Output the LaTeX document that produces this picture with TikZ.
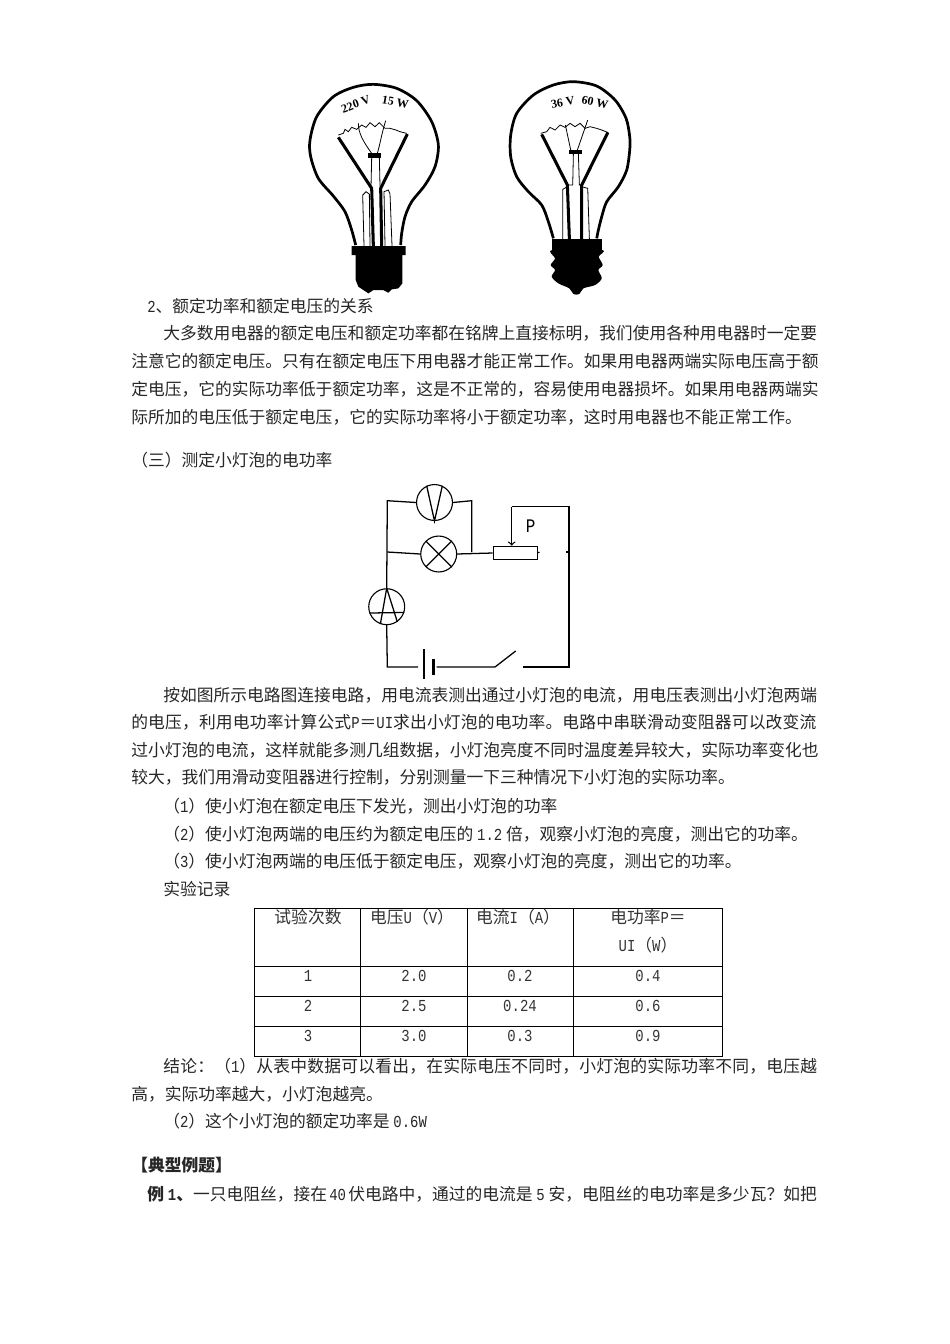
\documentclass[tikz,border=0pt]{standalone}
\usepackage{fontspec}
\setmainfont{Noto Sans CJK SC}
\newfontfamily\hwfont{Liberation Mono}[FakeStretch=0.833]
\newfontfamily\tagfont{Liberation Serif}[Scale=1]
\newcommand{\hw}[1]{{\hwfont #1}}
\tikzset{
    zi/.style={anchor=west,inner sep=0pt,font=\fontsize{10.5pt}{10.5pt}\selectfont,text=black!85},
    cell/.style={inner sep=0pt,font=\fontsize{10.5pt}{10.5pt}\selectfont,text=black!80},
    tag/.style={inner sep=0pt,font=\tagfont\bfseries\fontsize{7.5pt}{7.5pt}\selectfont},
    wire/.style={line width=0.8pt},
    rule/.style={line width=0.6pt},
    meter/.style={draw,circle,line width=0.7pt,inner sep=0pt,minimum size=22.5pt},
    glass/.style={line width=1.7pt,line join=round},
    leadin/.style={line width=1.9pt},
    fine/.style={line width=0.5pt}
}
\begin{document}
\begin{tikzpicture}[x=0.6263pt,y=-0.6263pt]
    \useasboundingbox (0,0) rectangle (950,1344);

    % left lamp
    \begin{scope}[shift={(290,70)},x=0.2088pt,y=-0.2088pt]
        \draw[glass] plot[smooth] coordinates {(197,525) (185,480) (165,425) (130,378) (85,325) (62,260) (60,210) (80,140) (130,80) (190,52) (250,43) (320,55) (380,92) (425,155) (445,225) (435,290) (405,345) (365,395) (345,440) (335,490) (332,525)};
        \fill (185,528) -- (347,528) -- (347,555) -- (337,555) -- (337,640) -- (325,655) -- (305,658) -- (295,668) -- (280,660) -- (250,660) -- (235,670) -- (220,660) -- (205,650) -- (197,630) -- (197,555) -- (185,555) -- cycle;
        \draw[leadin] (145,202) -- (245,355) -- (250,528);
        \draw[leadin] (352,192) -- (272,355) -- (275,528);
        \fill (235,250) rectangle (272,263);
        \draw[fine] (245,262) -- (243,350);
        \draw[fine] (268,262) -- (270,350);
        \draw[fine] (240,528) -- (238,372) -- (228,365) -- (218,375) -- (222,528);
        \draw[fine] (285,528) -- (282,365) -- (295,360) -- (300,372) -- (306,528);
        \draw[fine] (245,250) .. controls (220,215) and (205,190) .. (205,160);
        \draw[fine] (262,250) .. controls (272,215) and (275,190) .. (287,152);
        \draw[fine] (145,195) -- (160,190) -- (165,178) -- (175,185) -- (185,172) -- (200,178) -- (215,165) -- (228,172) -- (240,158) -- (255,170) -- (268,158) -- (285,175) -- (300,175) -- (318,180) -- (330,185) -- (350,190);
        \node[tag,rotate=20] (leftvolt) at (197,103) {220 V};
        \node[tag,rotate=-10] (leftwatt) at (316,97) {15 W};
    \end{scope}

    % right lamp
    \begin{scope}[shift={(290,70)},x=0.2088pt,y=-0.2088pt]
        \draw[glass] plot[smooth] coordinates {(790,505) (775,455) (755,405) (715,365) (680,320) (662,260) (662,195) (680,130) (730,75) (790,45) (850,35) (920,48) (975,90) (1008,145) (1019,200) (1019,240) (1010,300) (985,350) (950,395) (935,440) (925,480) (920,505)};
        \fill (785,507) rectangle (937,545);
        \fill plot[smooth cycle] coordinates {(787,540) (935,540) (926,560) (938,585) (925,600) (935,625) (915,645) (880,655) (868,672) (850,672) (838,655) (805,640) (785,620) (795,600) (782,585) (795,565)};
        \draw[leadin] (755,193) -- (832,345) -- (838,507);
        \draw[leadin] (953,188) -- (875,345) -- (875,507);
        \fill (838,240) rectangle (875,252);
        \draw[fine] (850,252) -- (848,345) -- (832,345);
        \draw[fine] (865,252) -- (868,345) -- (875,345);
        \draw[fine] (818,507) -- (818,358) -- (832,350);
        \draw[fine] (898,507) -- (893,355) -- (875,350);
        \draw[fine] (842,240) -- (826,165);
        \draw[fine] (862,240) -- (893,150);
        \draw[fine] (752,190) -- (770,185) -- (780,172) -- (795,180) -- (810,165) -- (825,172) -- (840,160) -- (855,170) -- (870,160) -- (885,175) -- (900,170) -- (920,175) -- (935,180) -- (955,188);
        \node[tag,rotate=10] (rightvolt) at (818,97) {36 V};
        \node[tag,rotate=-12] (rightwatt) at (915,97) {60 W};
    \end{scope}

    \node[zi] (relation) at (147,306) {\hw{2}、额定功率和额定电压的关系};
    \node[zi] (paraonea) at (163,333) {大多数用电器的额定电压和额定功率都在铭牌上直接标明，我们使用各种用电器时一定要};
    \node[zi] (paraoneb) at (131,361) {注意它的额定电压。只有在额定电压下用电器才能正常工作。如果用电器两端实际电压高于额};
    \node[zi] (paraonec) at (131,389) {定电压，它的实际功率低于额定功率，这是不正常的，容易使用电器损坏。如果用电器两端实};
    \node[zi] (paraoned) at (131,417) {际所加的电压低于额定电压，它的实际功率将小于额定功率，这时用电器也不能正常工作。};
    \node[zi] (measure) at (131,460) {（三）测定小灯泡的电功率};

    % circuit
    \node[meter] (vm) at (434.5,502.5) {};
    \node[meter] (lamp) at (438.7,554) {};
    \node[meter] (am) at (386.7,606.7) {};
    \node[draw,wire,inner sep=0pt,minimum width=27.8pt,minimum height=8.4pt] (rheo) at (515.5,553) {};
    \node[inner sep=0pt,font=\hwfont\fontsize{12pt}{12pt}\selectfont] (plabel) at (530.7,525.7) {P};
    \draw[wire] (vm.115) -- (vm.south) -- (vm.65);
    \draw[wire] (lamp.north west) -- (lamp.south east);
    \draw[wire] (lamp.north east) -- (lamp.south west);
    \draw[wire] (am.north) -- (am.250);
    \draw[wire] (am.north) -- (am.-55);
    \draw[wire] (am.200) -- (am.-18);

    \coordinate (topleft) at (387.3,500.7);
    \coordinate (topright) at (471.7,500.7);
    \coordinate (midleft) at (387.3,552);
    \coordinate (midright) at (471.7,552);
    \coordinate (botleft) at (387.3,667);
    \coordinate (cellleft) at (418,667);
    \coordinate (cellright) at (436.7,667);
    \coordinate (swleft) at (495,667);
    \coordinate (swtip) at (515.7,651);
    \coordinate (swright) at (523.3,667);
    \coordinate (botright) at (569,667);
    \coordinate (farright) at (569,506.7);
    \coordinate (slider) at (511.7,506.7);
    \coordinate (stub) at (539.3,552);
    \coordinate (tick) at (566,552);

    \draw[wire] (am.north) -- (topleft) -- (vm.west);
    \draw[wire] (vm.east) -- (topright) -- (midright);
    \draw[wire] (midleft) -- (lamp.west);
    \draw[wire] (lamp.east) -- (rheo.west);
    \draw[wire] (rheo.east) -- (stub);
    \draw[wire] (am.south) -- (botleft) -- (cellleft);
    \draw[line width=1pt] (424,649.3) -- (424,679.3);
    \draw[line width=2.2pt] (433.3,659.3) -- (433.3,675);
    \draw[wire] (cellright) -- (swleft) -- (swtip);
    \draw[wire] (swright) -- (botright) -- (farright) -- (slider);
    \draw[wire] (tick) -- (botright |- tick);
    \draw[wire,->] (slider) -- (rheo.north -| slider);

    \node[zi] (paratwoa) at (163,695) {按如图所示电路图连接电路，用电流表测出通过小灯泡的电流，用电压表测出小灯泡两端};
    \node[zi] (paratwob) at (131,722) {\addfontfeature{LetterSpace=1}的电压，利用电功率计算公式\hw{P}＝\hw{UI}求出小灯泡的电功率。电路中串联滑动变阻器可以改变流};
    \node[zi] (paratwoc) at (131,750) {过小灯泡的电流，这样就能多测几组数据，小灯泡亮度不同时温度差异较大，实际功率变化也};
    \node[zi] (paratwod) at (131,777) {较大，我们用滑动变阻器进行控制，分别测量一下三种情况下小灯泡的实际功率。};
    \node[zi] (caseone) at (163,806) {（\hw{1}）使小灯泡在额定电压下发光，测出小灯泡的功率};
    \node[zi] (casetwo) at (163,834) {（\hw{2}）使小灯泡两端的电压约为额定电压的 \hw{1.2} 倍，观察小灯泡的亮度，测出它的功率。};
    \node[zi] (casethree) at (163,861) {（\hw{3}）使小灯泡两端的电压低于额定电压，观察小灯泡的亮度，测出它的功率。};
    \node[zi] (record) at (163,889) {实验记录};

    % table
    \draw[rule] (254.7,908) rectangle (722.7,1056.7);
    \draw[rule] (360.7,908) -- (360.7,1056.7);
    \draw[rule] (467,908) -- (467,1056.7);
    \draw[rule] (573,908) -- (573,1056.7);
    \draw[rule] (254.7,966) -- (722.7,966);
    \draw[rule] (254.7,996.7) -- (722.7,996.7);
    \draw[rule] (254.7,1026.7) -- (722.7,1026.7);
    \node[cell] (headtrial) at (308,917) {试验次数};
    \node[cell] (headvolt) at (412,917) {电压\hw{U}（\hw{V}）};
    \node[cell] (headamp) at (518,917) {电流\hw{I}（\hw{A}）};
    \node[cell] (headpowa) at (648,917) {电功率\hw{P}＝};
    \node[cell] (headpowb) at (648,945) {\hw{UI}（\hw{W}）};
    \node[cell] (rowonea) at (308,976) {\hw{1}};
    \node[cell] (rowoneb) at (414,976) {\hw{2.0}};
    \node[cell] (rowonec) at (520,976) {\hw{0.2}};
    \node[cell] (rowoned) at (648,976) {\hw{0.4}};
    \node[cell] (rowtwoa) at (308,1006) {\hw{2}};
    \node[cell] (rowtwob) at (414,1006) {\hw{2.5}};
    \node[cell] (rowtwoc) at (520,1006) {\hw{0.24}};
    \node[cell] (rowtwod) at (648,1006) {\hw{0.6}};
    \node[cell] (rowthreea) at (308,1036) {\hw{3}};
    \node[cell] (rowthreeb) at (414,1036) {\hw{3.0}};
    \node[cell] (rowthreec) at (520,1036) {\hw{0.3}};
    \node[cell] (rowthreed) at (648,1036) {\hw{0.9}};

    \node[zi] (resulta) at (163,1066) {\addfontfeature{LetterSpace=1.4}结论：（\hw{1}）从表中数据可以看出，在实际电压不同时，小灯泡的实际功率不同，电压越};
    \node[zi] (resultb) at (131,1094) {高，实际功率越大，小灯泡越亮。};
    \node[zi] (resultc) at (163,1121) {（\hw{2}）这个小灯泡的额定功率是 \hw{0.6W}};
    \node[zi] (typical) at (131,1165) {\bfseries 【典型例题】};
    \node[zi] (sample) at (147,1194) {{\bfseries 例 \hw{1}、}一只电阻丝，接在\hspace{-1pt} \hw{40} \hspace{-1pt}伏电路中，通过的电流是 \hw{5} 安，电阻丝的电功率是多少瓦？如把};
\end{tikzpicture}
\end{document}
